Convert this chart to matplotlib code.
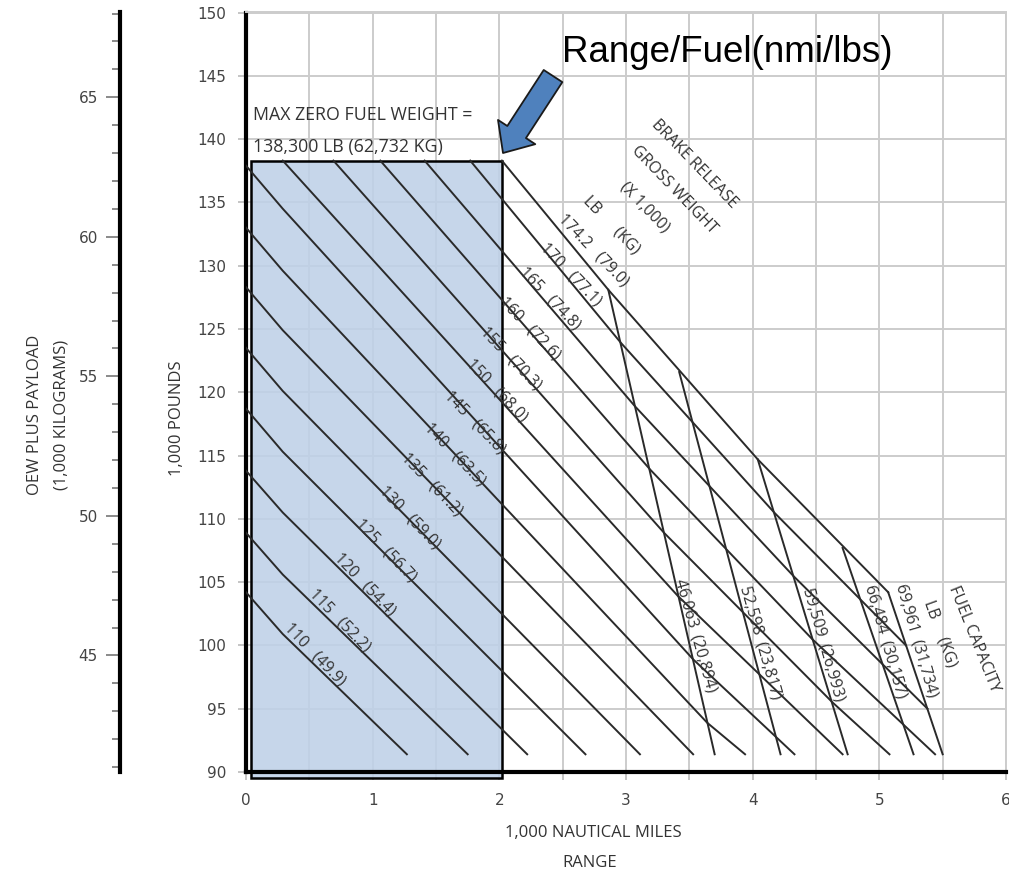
import numpy as np
import matplotlib.pyplot as plt
from matplotlib.patches import Rectangle
from matplotlib.ticker import MultipleLocator

# brake release gross weight lines: range (1,000 nmi) vs OEW + payload (1,000 lb)
weight_labels = ['110   (49.9)', '115   (52.2)', '120   (54.4)', '125   (56.7)',
                 '130   (59.0)', '135   (61.2)', '140   (63.5)', '145   (65.8)',
                 '150   (68.0)', '155   (70.3)', '160   (72.6)', '165   (74.8)',
                 '170   (77.1)', '174.2   (79.0)']
weight_x = [[0, 0.29, 1.27],
            [0, 0.29, 1.75],
            [0, 0.29, 2.22],
            [0, 0.29, 2.68],
            [0, 0.29, 3.11],
            [0, 0.29, 3.53],
            [0, 0.29, 3.64, 3.94],
            [0, 0.29, 3.53, 4.33],
            [0.29, 3.41, 4.71],
            [0.69, 3.30, 4.63, 5.08],
            [1.06, 3.19, 4.47, 5.44],
            [1.41, 3.07, 4.32, 5.38],
            [1.77, 2.96, 4.17, 5.21],
            [2.02, 2.86, 4.04, 5.07]]
weight_y = [[104.2, 100.9, 91.4],
            [108.9, 105.6, 91.4],
            [113.8, 110.5, 91.4],
            [118.7, 115.3, 91.4],
            [123.5, 120.1, 91.4],
            [128.3, 124.9, 91.4],
            [133.0, 129.6, 93.9, 91.4],
            [137.9, 134.5, 98.9, 91.4],
            [138.3, 103.9, 91.4],
            [138.3, 108.9, 95.5, 91.4],
            [138.3, 113.9, 100.5, 91.4],
            [138.3, 118.9, 105.5, 95.0],
            [138.3, 123.9, 110.5, 100.0],
            [138.3, 128.1, 114.7, 104.2]]

# fuel capacity lines, LB (KG)
fuel_labels = ['46,063  (20,894)', '52,598  (23,817)', '59,509  (26,993)',
               '66,484  (30,157)', '69,961  (31,734)']
fuel_x = [[2.86, 3.70], [3.42, 4.22], [4.04, 4.75], [4.71, 5.27], [5.07, 5.50]]
fuel_y = [[128.1, 91.4], [121.6, 91.4], [114.7, 91.4], [107.7, 91.4], [104.2, 91.4]]

# max zero fuel weight box
mzfw_range = [0.04, 2.02]
mzfw_weight = [89.5, 138.3]

x_ticks = [0, 1, 2, 3, 4, 5, 6]
y_ticks = [90, 95, 100, 105, 110, 115, 120, 125, 130, 135, 140, 145, 150]
kg_ticks = [45, 50, 55, 60, 65]
LB_PER_KG = 2.20462

# label placement (data coords)
weight_label_x = [0.545, 0.742, 0.939, 1.105, 1.295, 1.468, 1.650, 1.808,
                  1.982, 2.092, 2.242, 2.400, 2.566, 2.739]
weight_label_y = [99.29, 101.98, 104.82, 107.51, 110.12, 112.73, 115.10, 117.63,
                  120.16, 122.69, 125.06, 127.43, 129.33, 131.23]
fuel_label_x = [3.545, 4.058, 4.555, 5.045, 5.29]
fuel_label_y = [100.79, 100.24, 100.08, 100.32, 100.4]

FONT = ['Open Sans', 'DejaVu Sans']
TXT = '#333333'
W, H = 1009, 872

fig = plt.figure(figsize=(W / 100, H / 100), dpi=100)
ax = fig.add_axes([246 / W, 1 - 772 / H, (1006 - 246) / W, (772 - 12.5) / H])
ax.set_xlim(0, 6)
ax.set_ylim(90, 150)

ax.set_xticks(x_ticks)
ax.set_xticks(np.arange(0, 6.01, 0.5), minor=True)
ax.set_yticks(y_ticks)
ax.grid(which='both', color='#cccccc', lw=1.4)
ax.set_axisbelow(True)
ax.tick_params(which='both', color='#bbbbbb', length=6, width=1.2,
               labelsize=11, labelcolor='#444444')
ax.tick_params(axis='y', pad=8)
ax.tick_params(axis='x', pad=9)
for s in ['left', 'bottom']:
    ax.spines[s].set_linewidth(3)
    ax.spines[s].set_color('black')
for s in ['top', 'right']:
    ax.spines[s].set_linewidth(1.4)
    ax.spines[s].set_color('#cccccc')

ax.add_patch(Rectangle((mzfw_range[0], mzfw_weight[0]), mzfw_range[1] - mzfw_range[0],
                       mzfw_weight[1] - mzfw_weight[0], fc=(0.75, 0.82, 0.91, 0.88),
                       ec='black', lw=1.8, clip_on=False, zorder=1.5))

for xs, ys in zip(weight_x, weight_y):
    ax.plot(xs, ys, color='#2a2a2a', lw=1.4, zorder=3)
for xs, ys in zip(fuel_x, fuel_y):
    ax.plot(xs, ys, color='#2a2a2a', lw=1.4, zorder=3)

for lab, x, y in zip(weight_labels, weight_label_x, weight_label_y):
    ax.text(x, y, lab, rotation=-46, rotation_mode='anchor', ha='center', va='center',
            fontsize=11.5, family=FONT, color=TXT, zorder=4)
for lab, x, y in zip(fuel_labels, fuel_label_x, fuel_label_y):
    ax.text(x, y, lab, rotation=-74, rotation_mode='anchor', ha='center', va='center',
            fontsize=11.5, family=FONT, color=TXT, zorder=4)

# header texts
ax.text(2.882, 133.2, 'LB      (KG)', rotation=-46, rotation_mode='anchor',
        ha='center', va='center', fontsize=11.5, family=FONT, color=TXT)
ax.text(3.15, 134.62, '(X 1,000)', rotation=-46, rotation_mode='anchor',
        ha='center', va='center', fontsize=11.5, family=FONT, color=TXT)
ax.text(3.379, 135.97, 'GROSS WEIGHT', rotation=-46, rotation_mode='anchor',
        ha='center', va='center', fontsize=11.5, family=FONT, color=TXT)
ax.text(3.537, 138.02, 'BRAKE RELEASE', rotation=-46, rotation_mode='anchor',
        ha='center', va='center', fontsize=11.5, family=FONT, color=TXT)
ax.text(5.479, 100.95, 'LB     (KG)', rotation=-70, rotation_mode='anchor',
        ha='center', va='center', fontsize=11.5, family=FONT, color=TXT)
ax.text(5.747, 100.47, 'FUEL CAPACITY', rotation=-68, rotation_mode='anchor',
        ha='center', va='center', fontsize=11.5, family=FONT, color=TXT)
ax.text(0.055, 141.9, 'MAX ZERO FUEL WEIGHT =', ha='left', va='center',
        fontsize=12.8, family=FONT, color=TXT)
ax.text(0.055, 139.4, '138,300 LB (62,732 KG)', ha='left', va='center',
        fontsize=12.8, family=FONT, color=TXT)

# callout arrow and title
ax.annotate('', xy=(2.029, 138.9), xytext=(2.424, 144.98),
            arrowprops=dict(arrowstyle='simple,head_width=3.2,head_length=1.8,tail_width=1.6',
                            fc='#4f81bd', ec='#1a1a1a', lw=1.3, shrinkA=0, shrinkB=0,
                            mutation_scale=10), zorder=5)
fig.text(562 / W, 1 - 62 / H, 'Range/Fuel(nmi/lbs)', ha='left', va='baseline',
         fontsize=26.5, family=['Liberation Sans', 'DejaVu Sans'], color='black')

# secondary kg axis
ax2 = fig.add_axes([120 / W, 1 - 772 / H, 0.0005, (772 - 12.5) / H])
ax2.set_ylim(90 / LB_PER_KG, 150 / LB_PER_KG)
ax2.patch.set_visible(False)
for s in ['top', 'bottom', 'right']:
    ax2.spines[s].set_visible(False)
ax2.spines['left'].set_linewidth(3)
ax2.set_xticks([])
ax2.set_yticks(kg_ticks)
ax2.yaxis.set_minor_locator(MultipleLocator(1))
ax2.tick_params(axis='y', which='major', length=10, width=1.2, color='#777777',
                labelsize=11, labelcolor='#444444', pad=6)
ax2.tick_params(axis='y', which='minor', length=6, width=1.2, color='#777777')

fig.text(35 / W, 1 - 415 / H, 'OEW PLUS PAYLOAD', rotation=90, ha='center', va='center',
         fontsize=12, family=FONT, color=TXT)
fig.text(62 / W, 1 - 415 / H, '(1,000 KILOGRAMS)', rotation=90, ha='center', va='center',
         fontsize=12, family=FONT, color=TXT)
fig.text(177 / W, 1 - 418 / H, '1,000 POUNDS', rotation=90, ha='center', va='center',
         fontsize=12, family=FONT, color=TXT)
fig.text(593 / W, 1 - 833 / H, '1,000 NAUTICAL MILES', ha='center', va='center',
         fontsize=12, family=FONT, color=TXT)
fig.text(590 / W, 1 - 863 / H, 'RANGE', ha='center', va='center',
         fontsize=12, family=FONT, color=TXT)

fig.savefig('out.png', dpi=100)
